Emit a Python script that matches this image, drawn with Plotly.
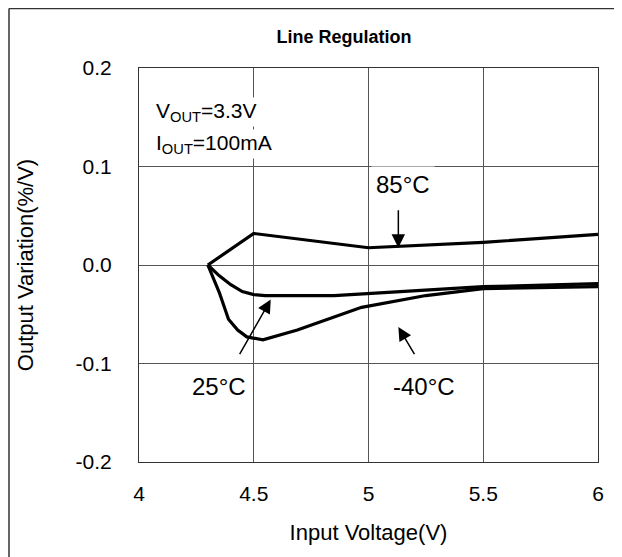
import plotly.graph_objects as go

# ---- data ----
x_85 = [4.3, 4.5, 5.0, 5.5, 6.0]
y_85 = [0.0, 0.032, 0.0175, 0.023, 0.031]

x_25 = [4.3, 4.35, 4.4, 4.45, 4.5, 4.55, 4.85, 5.0, 5.5, 6.0]
y_25 = [0.0, -0.011, -0.020, -0.027, -0.030, -0.031, -0.031, -0.029, -0.022, -0.019]

x_m40 = [4.3, 4.35, 4.39, 4.43, 4.47, 4.54, 4.69, 4.82, 4.97, 5.25, 5.5, 6.0]
y_m40 = [0.0, -0.028, -0.055, -0.066, -0.073, -0.076, -0.066, -0.055, -0.043, -0.031, -0.024, -0.022]

x_ticks = [4, 4.5, 5, 5.5, 6]
x_labels = ["4", "4.5", "5", "5.5", "6"]
y_ticks = [-0.2, -0.1, 0.0, 0.1, 0.2]
y_labels = ["-0.2", "-0.1", "0.0", "0.1", "0.2"]

series = [("85°C", x_85, y_85), ("25°C", x_25, y_25), ("-40°C", x_m40, y_m40)]

FONT = "Liberation Sans, Arial, sans-serif"

fig = go.Figure()
for name, xs, ys in series:
    fig.add_trace(go.Scatter(x=xs, y=ys, mode="lines", name=name,
                             line=dict(color="black", width=3.2), showlegend=False))

grid = "#555555"
fig.update_layout(
    width=622, height=557,
    margin=dict(l=131, r=32, t=60, b=103),
    paper_bgcolor="white", plot_bgcolor="white",
    font=dict(family=FONT, color="black"),
    title=dict(text="<b>Line Regulation</b>", x=(336 / 622), xanchor="center",
               y=1 - 29 / 557, yanchor="middle", font=dict(size=18)),
    xaxis=dict(range=[4, 6], tickvals=x_ticks, ticktext=x_labels,
               showgrid=True, gridcolor=grid, gridwidth=1, zeroline=False,
               showline=True, linecolor="#333", linewidth=1, mirror=True,
               ticks="", tickfont=dict(size=21), ticklabelstandoff=13,
               title=dict(text="Input Voltage(V)", font=dict(size=22), standoff=20)),
    yaxis=dict(range=[-0.2, 0.2], tickvals=y_ticks, ticktext=y_labels,
               showgrid=True, gridcolor=grid, gridwidth=1, zeroline=False,
               showline=True, linecolor="#333", linewidth=1, mirror=True,
               ticks="", tickfont=dict(size=21), ticklabelstandoff=22,
               title=dict(text="Output Variation(%/V)", font=dict(size=22), standoff=35)),
)

# text labels with white backgrounds (cover gridlines as in the reference)
fig.add_annotation(x=4.065, y=0.155, xref="x", yref="y", xanchor="left", yanchor="middle",
                   text="V<sub>OUT</sub>=3.3V", showarrow=False, font=dict(size=21),
                   bgcolor="white")
fig.add_annotation(x=4.065, y=0.123, xref="x", yref="y", xanchor="left", yanchor="middle",
                   text="I<sub>OUT</sub>=100mA", showarrow=False, font=dict(size=21),
                   bgcolor="white")
fig.add_annotation(x=5.15, y=0.082, text="85°C", showarrow=False, font=dict(size=24),
                   bgcolor="white", borderpad=4)
fig.add_annotation(x=4.35, y=-0.123, text="25°C", showarrow=False, font=dict(size=24),
                   bgcolor="white", borderpad=4)
fig.add_annotation(x=5.24, y=-0.123, text="-40°C", showarrow=False, font=dict(size=24),
                   bgcolor="white", borderpad=4)

# arrows
arrows = [((5.13, 0.057), (5.13, 0.0175)),
          ((4.435, -0.092), (4.574, -0.035)),
          ((5.204, -0.092), (5.13, -0.063))]
for (tx, ty), (hx, hy) in arrows:
    fig.add_annotation(x=hx, y=hy, ax=tx, ay=ty, xref="x", yref="y", axref="x", ayref="y",
                       text="", showarrow=True, arrowhead=2, arrowsize=1.8,
                       arrowwidth=1.5, arrowcolor="black")

# outer frame (only left and top edges visible in the reference)
pw, ph = 622 - 131 - 32, 557 - 60 - 103
fy_top = (ph + 60 - 0.5) / ph          # near top edge of the figure
fx_left = (1 - 131) / pw
fig.add_shape(type="line", xref="paper", yref="paper",
              x0=fx_left, x1=(640 - 131) / pw, y0=fy_top, y1=fy_top,
              line=dict(color="#333", width=1.5))
fig.add_shape(type="line", xref="paper", yref="paper",
              x0=fx_left, x1=fx_left, y0=fy_top, y1=-(103 + 20) / ph,
              line=dict(color="#333", width=1.5))

fig.write_html("out.html")
